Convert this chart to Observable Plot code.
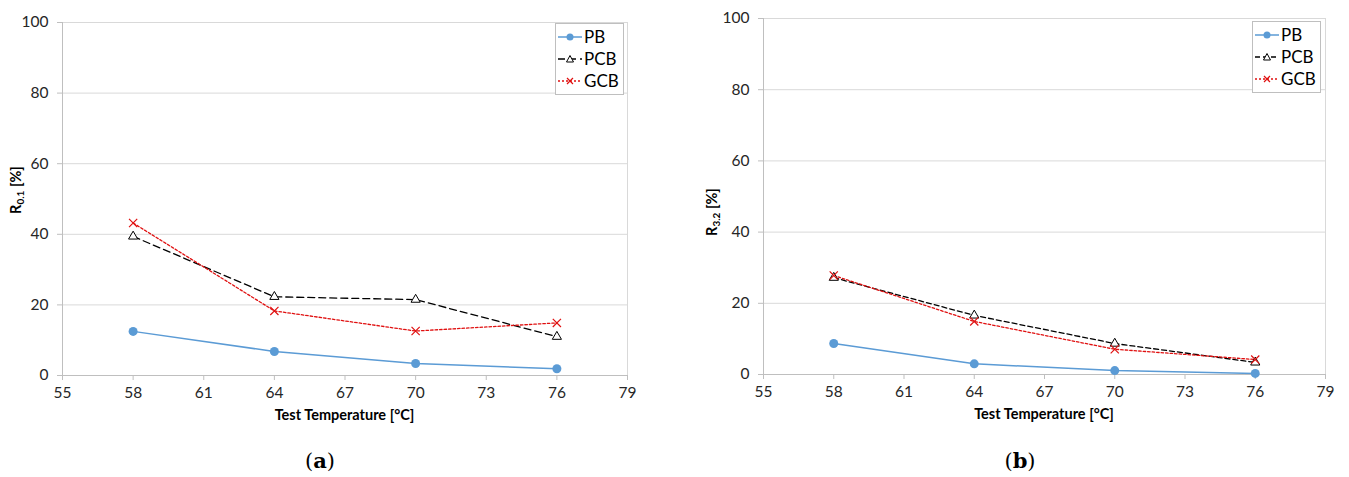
<!DOCTYPE html>
<html><head><meta charset="utf-8">
<script src="https://cdn.jsdelivr.net/npm/d3@7"></script>
<script src="https://cdn.jsdelivr.net/npm/@observablehq/plot@0.6"></script>
<style>
body{margin:0;background:#fff;width:1349px;height:477px;position:relative;overflow:hidden;font-family:Lato,"Open Sans",sans-serif}
.panel{position:absolute;top:0}
.legend{position:absolute;border:1px solid #bfbfbf;background:#fff;padding:2px 4px 2px 2px;font-size:17px;color:#000;line-height:22px}
.legend div{display:flex;align-items:center;white-space:nowrap}
.legend svg{margin-right:2px}
.cap{position:absolute;top:448px;font-family:"DejaVu Serif","Liberation Serif",serif;font-size:21px;color:#000;transform:translateX(-50%)}
</style></head>
<body>
<div id="root"></div>
<script>
const temps = [58, 64, 70, 76];
const seriesNames = ["PB", "PCB", "GCB"];
const pbA = [12.5, 6.8, 3.4, 1.9];
const pcbA = [39.4, 22.3, 21.5, 11.0];
const gcbA = [43.2, 18.3, 12.6, 14.9];
const pbB = [8.7, 3.0, 1.1, 0.3];
const pcbB = [27.2, 16.6, 8.7, 3.4];
const gcbB = [27.8, 14.9, 7.1, 4.2];
const xTicks = [55, 58, 61, 64, 67, 70, 73, 76, 79];
const yTicks = [0, 20, 40, 60, 80, 100];
const yLabelsMain = ["R", "R"];
const yLabelsSub = ["0.1", "3.2"];
const xLabel = "Test Temperature [°C]";
const captions = ["a", "b"];

const colors = {PB: "#5b9bd5", PCB: "#000000", GCB: "#e01010"};

function rows(pb, pcb, gcb) {
  const out = [];
  [pb, pcb, gcb].forEach((arr, i) => arr.forEach((v, j) => out.push({temp: temps[j], value: v, series: seriesNames[i]})));
  return out;
}

function legendHTML(pcbDash) {
  const items = [
    {name: "PB", dash: null, mk: `<circle cx="12" cy="8" r="3.5" fill="${colors.PB}"/>`},
    {name: "PCB", dash: pcbDash, mk: `<path d="M12,4.5 L15.5,11 L8.5,11 Z" fill="#fff" stroke="#000" stroke-width="1"/>`},
    {name: "GCB", dash: "2,2", mk: `<path d="M9,5 L15,11 M15,5 L9,11" stroke="${colors.GCB}" stroke-width="1.2"/>`}
  ];
  return items.map(it => `<div><svg width="24" height="16"><line x1="0" y1="8" x2="24" y2="8" stroke="${colors[it.name]}" stroke-width="1.5" ${it.dash ? `stroke-dasharray="${it.dash}"` : ""}/>${it.mk}</svg>${it.name}</div>`).join("");
}

function makeChart(cfg) {
  const data = rows(cfg.pb, cfg.pcb, cfg.gcb);
  const ser = s => data.filter(d => d.series === s);
  const chart = Plot.plot({
    width: cfg.width, height: 420,
    marginLeft: cfg.ml, marginRight: cfg.mr, marginTop: cfg.mt, marginBottom: 420 - cfg.bottom,
    style: {fontFamily: "Lato, 'Open Sans', sans-serif", fontSize: "15px", color: "#404040", background: "#fff", overflow: "visible"},
    x: {domain: [55, 79]},
    y: {domain: [0, 100]},
    marks: [
      Plot.gridY(yTicks, {stroke: "#d9d9d9", strokeOpacity: 1}),
      Plot.ruleX([79], {stroke: "#d9d9d9"}),
      Plot.ruleY([0], {stroke: "#bfbfbf"}),
      Plot.ruleX([55], {stroke: "#bfbfbf"}),
      Plot.axisX(xTicks, {tickSize: 5, tickPadding: 6, stroke: "#bfbfbf", fill: "#262626", label: null, fontSize: 15.5}),
      Plot.axisY(yTicks, {tickSize: 5, tickPadding: 9, stroke: "#bfbfbf", fill: "#262626", label: null, fontSize: 15.5}),
      Plot.line(ser("PB"), {x: "temp", y: "value", stroke: colors.PB, strokeWidth: 1.5}),
      Plot.line(ser("PCB"), {x: "temp", y: "value", stroke: colors.PCB, strokeWidth: 1.3, strokeDasharray: cfg.pcbDash}),
      Plot.line(ser("GCB"), {x: "temp", y: "value", stroke: colors.GCB, strokeWidth: 1.3, strokeDasharray: "2.5,2"}),
      Plot.dot(ser("PB"), {x: "temp", y: "value", r: 4.5, fill: colors.PB}),
      Plot.dot(ser("PCB"), {x: "temp", y: "value", symbol: "triangle", r: 3.4, fill: "#fff", stroke: "#000", strokeWidth: 1}),
      Plot.dot(ser("GCB"), {x: "temp", y: "value", symbol: "times", r: 3.8, stroke: colors.GCB, strokeWidth: 1.2})
    ]
  });
  const svg = d3.select(chart);
  svg.append("text").attr("x", (cfg.ml + cfg.width - cfg.mr) / 2).attr("y", cfg.bottom + 45)
    .attr("text-anchor", "middle").attr("font-size", 14.5).attr("font-weight", "bold").attr("fill", "#000")
    .text(xLabel);
  const yl = svg.append("text").attr("transform", `translate(${cfg.ylx},${cfg.yly}) rotate(-90)`)
    .attr("text-anchor", "middle").attr("font-size", 14.5).attr("font-weight", "bold").attr("fill", "#000");
  yl.append("tspan").text(cfg.yMain);
  yl.append("tspan").attr("font-size", 10).attr("dy", 3).text(cfg.ySub);
  yl.append("tspan").attr("dy", -3).text(" [%]");

  const wrap = document.createElement("div");
  wrap.className = "panel";
  wrap.style.left = cfg.left + "px";
  wrap.appendChild(chart);
  const lg = document.createElement("div");
  lg.className = "legend";
  lg.style.left = cfg.legX + "px";
  lg.style.top = cfg.legY + "px";
  lg.innerHTML = legendHTML(cfg.pcbDash);
  wrap.appendChild(lg);
  document.getElementById("root").appendChild(wrap);

  const cap = document.createElement("div");
  cap.className = "cap";
  cap.style.left = cfg.capX + "px";
  cap.innerHTML = `(<b>${cfg.cap}</b>)`;
  document.body.appendChild(cap);
}

makeChart({left: 0, width: 660, ml: 62, mr: 33, mt: 22, bottom: 375, pb: pbA, pcb: pcbA, gcb: gcbA,
  pcbDash: "7,4", yMain: yLabelsMain[0], ySub: yLabelsSub[0], ylx: 21, yly: 190,
  legX: 555, legY: 23, capX: 320, cap: captions[0]});
makeChart({left: 700, width: 649, ml: 63, mr: 24, mt: 18, bottom: 374, pb: pbB, pcb: pcbB, gcb: gcbB,
  pcbDash: "5,3", yMain: yLabelsMain[1], ySub: yLabelsSub[1], ylx: 17, yly: 212,
  legX: 552, legY: 21, capX: 1020, cap: captions[1]});
</script>
</body></html>
